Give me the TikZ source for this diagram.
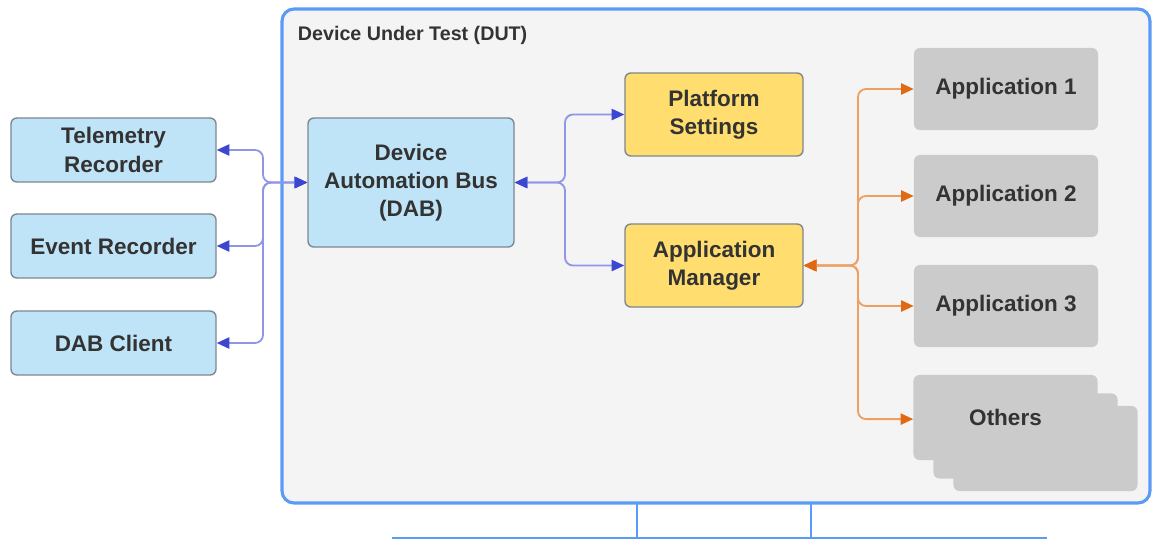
\documentclass[tikz,border=0pt]{standalone}
\usepackage{fontspec}
\setmainfont{Liberation Sans}
\usetikzlibrary{arrows.meta}
\definecolor{dutfill}{HTML}{F4F4F4}
\definecolor{dutblue}{HTML}{5A9CF5}
\definecolor{lightblue}{HTML}{C0E4F7}
\definecolor{boxedge}{HTML}{7D8790}
\definecolor{yel}{HTML}{FFDD6E}
\definecolor{appgray}{HTML}{CBCBCB}
\definecolor{txt}{HTML}{333333}
\definecolor{lineblue}{HTML}{8F96E8}
\definecolor{tipblue}{HTML}{3B46D1}
\definecolor{lineorange}{HTML}{EE9F62}
\definecolor{tiporange}{HTML}{E06A12}
\begin{document}
\begin{tikzpicture}[x=0.025cm, y=-0.025cm, font=\fontsize{16}{20}\selectfont\bfseries, text=txt,
	side/.style={draw=boxedge, fill=lightblue, line width=1pt, rounded corners=0.15cm, minimum width=5.125cm, minimum height=1.6cm, align=center},
	bus/.style={side, minimum width=5.15cm, minimum height=3.225cm},
	yellow/.style={draw=boxedge, fill=yel, line width=1pt, rounded corners=0.15cm, minimum width=4.45cm, minimum height=2.075cm, align=center},
	app/.style={fill=appgray, rounded corners=0.15cm, minimum width=4.6cm, minimum height=2.05cm, align=center},
	card/.style={app, minimum height=2.125cm},
	bluelink/.style={draw=lineblue, line width=1.3pt, rounded corners=0.2cm, {Triangle[length=9pt,width=8pt,color=tipblue]}-{Triangle[length=9pt,width=8pt,color=tipblue]}},
	orangelink/.style={draw=lineorange, line width=1.3pt, rounded corners=0.2cm, {Triangle[length=9pt,width=8pt,color=tiporange]}-{Triangle[length=9pt,width=8pt,color=tiporange]}},
	stand/.style={draw=dutblue, line width=2pt}]
	\useasboundingbox (0,0) rectangle (1153,541);
	% monitor
	\draw[stand] (637,503) -- (637,538);
	\draw[stand] (811,503) -- (811,538);
	\draw[stand] (392,538) -- (1047,538);
	\draw[draw=dutblue, fill=dutfill, line width=2.2pt, rounded corners=0.3cm] (282,9) rectangle (1150,503);
	\node[anchor=west, font=\fontsize{14}{17}\selectfont\bfseries] (T) at (293,35) {Device Under Test (DUT)};
	% outside
	\node[side] (TR) at (113.5,150) {Telemetry\\Recorder};
	\node[side] (ER) at (113.5,246) {Event Recorder};
	\node[side] (DC) at (113.5,343) {DAB Client};
	% inside
	\node[bus] (DAB) at (411,182.5) {Device\\Automation Bus\\(DAB)};
	\node[yellow] (PS) at (714,114.5) {Platform\\Settings};
	\node[yellow] (AM) at (714,265.5) {Application\\Manager};
	\node[app] (A1) at (1006,89) {Application 1};
	\node[app] (A2) at (1006,196) {Application 2};
	\node[app] (A3) at (1006,306) {Application 3};
	\node[card] (O3) at (1045.5,448.5) {};
	\node[card] (O2) at (1025.5,436) {};
	\node[card] (O1) at (1005.5,417.5) {Others};
	% links
	\coordinate (jl) at (263,182.5);
	\coordinate (jr) at (565,182.5);
	\coordinate (jo) at (858,265.5);
	\draw[bluelink] (DAB.west) -- (jl) |- (TR.east);
	\draw[bluelink] (DAB.west) -- (jl) |- (ER.east);
	\draw[bluelink] (DAB.west) -- (jl) |- (DC.east);
	\draw[bluelink] (DAB.east) -- (jr) |- (PS.west);
	\draw[bluelink] (DAB.east) -- (jr) |- (AM.west);
	\draw[orangelink] (AM.east) -- (jo) |- (A1.west);
	\draw[orangelink] (AM.east) -- (jo) |- (A2.west);
	\draw[orangelink] (AM.east) -- (jo) |- (A3.west);
	\draw[orangelink] (AM.east) -- (jo) |- ([yshift=-0.04cm]O1.west);
\end{tikzpicture}
\end{document}
